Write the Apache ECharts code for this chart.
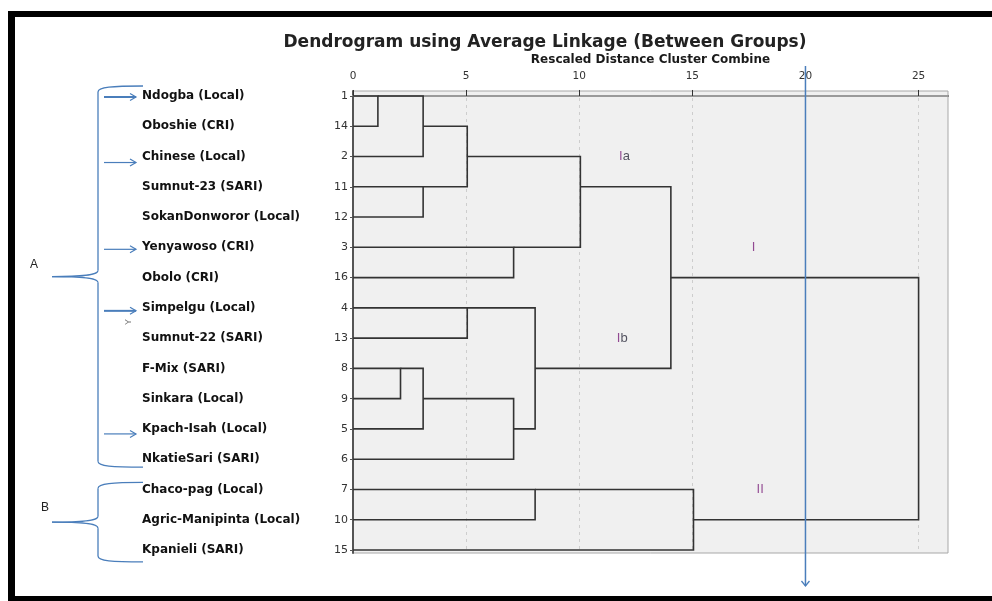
<!DOCTYPE html>
<html><head><meta charset="utf-8">
<script src="https://cdn.jsdelivr.net/npm/echarts@6/dist/echarts.min.js"></script>
<style>html,body{margin:0;padding:0;background:#fff}#c{width:992px;height:601px}</style>
</head><body><div id="c"></div>
<script>
// ---- data ----
const caseLabels = ['Ndogba (Local)','Oboshie (CRI)','Chinese (Local)','Sumnut-23 (SARI)','SokanDonworor (Local)','Yenyawoso (CRI)','Obolo (CRI)','Simpelgu (Local)','Sumnut-22 (SARI)','F-Mix (SARI)','Sinkara (Local)','Kpach-Isah (Local)','NkatieSari (SARI)','Chaco-pag (Local)','Agric-Manipinta (Local)','Kpanieli (SARI)'];
const caseNumbers = ['1','14','2','11','12','3','16','4','13','8','9','5','6','7','10','15'];
// [childA, childB, rescaled distance]; child < 16 = row index, child >= 16 = earlier merge (16 + k)
const merges = [
  [0, 1, 1.1],
  [16, 2, 3.1],
  [3, 4, 3.1],
  [17, 18, 5.05],
  [5, 6, 7.1],
  [19, 20, 10.05],
  [7, 8, 5.05],
  [9, 10, 2.1],
  [23, 11, 3.1],
  [24, 12, 7.1],
  [22, 25, 8.05],
  [21, 26, 14.05],
  [13, 14, 8.05],
  [28, 15, 15.05],
  [27, 29, 25]
];
const xTicks = [0, 5, 10, 15, 20, 25];
const clusterLabels = [['Ia', 12, 2], ['Ib', 11.9, 8], ['I', 17.7, 5], ['II', 18, 13]];
const cutDistance = 20;
const arrowRows = [0, 2, 5, 7, 11];
const groupA = [0, 12];
const groupB = [13, 15];

// ---- tree layout (SPSS style: cluster sits on floor of mean row) ----
const nLeaf = caseLabels.length;
const rows = caseLabels.map((_, i) => i);
const pos = [], end = [];
for (let i = 0; i < nLeaf; i++) { pos[i] = i; end[i] = 0; }
const segs = [];
merges.forEach((m, k) => {
  const [a, b, d] = m; const id = nLeaf + k;
  segs.push({ coords: [[end[a], pos[a]], [d, pos[a]], [d, pos[b]], [end[b], pos[b]]] });
  pos[id] = Math.floor((pos[a] + pos[b]) / 2); end[id] = d;
});

const chart = echarts.init(document.getElementById('c'), null, { renderer: 'canvas' });
const yBase = { type: 'value', inverse: true, min: -0.165, max: 15.1, splitLine: { show: false } };
const option = {
  animation: false,
  backgroundColor: '#ffffff',
  title: {
    text: 'Dendrogram using Average Linkage (Between Groups)',
    left: 545, top: 34, textAlign: 'center', padding: 0,
    textStyle: { fontFamily: 'DejaVu Sans', fontSize: 17, fontWeight: 'bold', color: '#222' }
  },
  grid: { left: 353, top: 91, right: 44, bottom: 48, show: true, backgroundColor: '#f0f0f0', borderColor: '#a8a8a8', borderWidth: 1 },
  xAxis: [{
    type: 'value', position: 'top', min: 0, max: 26.3, interval: 5,
    name: 'Rescaled Distance Cluster Combine', nameLocation: 'middle', nameGap: 24,
    nameTextStyle: { fontFamily: 'DejaVu Sans', fontSize: 12, fontWeight: 'bold', color: '#1a1a1a' },
    axisLine: { show: true, lineStyle: { color: '#333', width: 2 } },
    axisTick: { show: true, length: 6, customValues: xTicks, lineStyle: { color: '#333' } },
    axisLabel: { customValues: xTicks, fontFamily: 'DejaVu Sans', fontSize: 10.5, color: '#333', margin: 9 },
    splitLine: { show: true, lineStyle: { color: '#cdcdcd', type: [3, 4] } }
  }, {
    type: 'value', position: 'bottom', min: 0, max: 26.3,
    axisLine: { show: true, lineStyle: { color: '#9a9a9a', width: 2 } },
    axisTick: { show: false }, axisLabel: { show: false }, splitLine: { show: false }
  }],
  yAxis: [Object.assign({}, yBase, {
    position: 'left',
    axisLine: { show: true, lineStyle: { color: '#555', width: 2 } },
    axisTick: { show: true, length: 3, customValues: rows, lineStyle: { color: '#555' } },
    axisLabel: { customValues: rows, formatter: v => caseNumbers[Math.round(v)], margin: 5, fontFamily: 'DejaVu Sans', fontSize: 11, color: '#333' }
  }), Object.assign({}, yBase, {
    position: 'left', offset: 0,
    axisLine: { show: false }, axisTick: { show: false },
    axisLabel: { customValues: rows, formatter: v => caseLabels[Math.round(v)], margin: 211, align: 'left', fontFamily: 'DejaVu Sans', fontWeight: 'bold', fontSize: 12, color: '#111' }
  })],
  series: [{
    type: 'lines', coordinateSystem: 'cartesian2d', xAxisIndex: 0, yAxisIndex: 0,
    polyline: true, silent: true, z: 3,
    data: segs,
    lineStyle: { color: '#333', width: 1.6, opacity: 1 }
  }, {
    type: 'scatter', xAxisIndex: 0, yAxisIndex: 0, silent: true, z: 4,
    symbolSize: 1, itemStyle: { color: 'rgba(0,0,0,0)' },
    data: clusterLabels.map(c => ({ value: [c[1], c[2]], name: c[0] })),
    label: {
      show: true, position: 'inside',
      formatter: p => {
        const n = p.name;
        if (n.length === 2 && n[1] !== 'I') return '{p|I}{d|' + n[1] + '}';
        return '{p|' + n + '}';
      },
      rich: {
        p: { fontFamily: 'Liberation Sans', fontSize: 13, color: '#7a1f7a' },
        d: { fontFamily: 'Liberation Sans', fontSize: 13, color: '#2b2b3b' }
      }
    }
  }]
};
chart.setOption(option);

// ---- annotations ----
function px(x, y) { return chart.convertToPixel({ seriesIndex: 0 }, [x, y]); }
const blue = '#4a7ebb';
const g = [];
// black frame
g.push({ type: 'rect', shape: { x: 8, y: 11, width: 984, height: 6 }, style: { fill: '#000' } });
g.push({ type: 'rect', shape: { x: 8, y: 11, width: 7, height: 590 }, style: { fill: '#000' } });
g.push({ type: 'rect', shape: { x: 8, y: 596, width: 984, height: 5 }, style: { fill: '#000' } });
// cut line
const cx = px(cutDistance, 0)[0];
g.push({ type: 'line', z: 10, shape: { x1: cx, y1: 66, x2: cx, y2: 586 }, style: { stroke: blue, lineWidth: 1.5 } });
g.push({ type: 'polyline', z: 10, shape: { points: [[cx - 4, 581], [cx, 586], [cx + 4, 581]] }, style: { stroke: blue, lineWidth: 1.3, fill: null } });
// arrows
const arrowDy = [1, 6, 2, 3, 5];
arrowRows.forEach((r, i) => {
  const y = px(0, r)[1] + arrowDy[i];
  const w = i === 0 || i === 3 ? 2 : 1.2;
  g.push({ type: 'line', shape: { x1: 104, y1: y, x2: 136, y2: y }, style: { stroke: blue, lineWidth: w } });
  g.push({ type: 'polyline', shape: { points: [[130, y - 3.5], [136, y], [130, y + 3.5]] }, style: { stroke: blue, lineWidth: 1.2, fill: null } });
});
// braces
function brace(top, bottom) {
  const tip = (top + bottom) / 2;
  const st = { stroke: blue, lineWidth: 1.3, fill: null };
  return [
    { type: 'bezierCurve', shape: { x1: 143, y1: top, cpx1: 112, cpy1: top, cpx2: 98, cpy2: top + 1, x2: 98, y2: top + 6 }, style: st },
    { type: 'line', shape: { x1: 98, y1: top + 6, x2: 98, y2: tip - 6 }, style: st },
    { type: 'bezierCurve', shape: { x1: 98, y1: tip - 6, cpx1: 98, cpy1: tip - 2, cpx2: 88, cpy2: tip, x2: 52, y2: tip }, style: st },
    { type: 'bezierCurve', shape: { x1: 52, y1: tip, cpx1: 88, cpy1: tip, cpx2: 98, cpy2: tip + 2, x2: 98, y2: tip + 6 }, style: st },
    { type: 'line', shape: { x1: 98, y1: tip + 6, x2: 98, y2: bottom - 6 }, style: st },
    { type: 'bezierCurve', shape: { x1: 98, y1: bottom - 6, cpx1: 98, cpy1: bottom - 1, cpx2: 112, cpy2: bottom, x2: 143, y2: bottom }, style: st }
  ];
}
const aTop = px(0, groupA[0])[1] - 10, aBot = px(0, groupA[1])[1] + 8;
const bTop = px(0, groupB[0])[1] - 7, bBot = px(0, groupB[1])[1] + 12;
brace(aTop, aBot).forEach(e => g.push(e));
brace(bTop, bBot).forEach(e => g.push(e));
g.push({ type: 'text', x: 34, y: (aTop + aBot) / 2 - 12, style: { text: 'A', fontFamily: 'Liberation Sans', fontSize: 12, fill: '#222', align: 'center', verticalAlign: 'middle' } });
g.push({ type: 'text', x: 45, y: (bTop + bBot) / 2 - 15, style: { text: 'B', fontFamily: 'Liberation Sans', fontSize: 12, fill: '#222', align: 'center', verticalAlign: 'middle' } });
g.push({ type: 'text', x: 129, y: 322, rotation: Math.PI / 2, style: { text: 'Y', fontFamily: 'Liberation Sans', fontSize: 9, fill: '#777', align: 'center', verticalAlign: 'middle' } });
chart.setOption({ graphic: g });
</script>
</body></html>
